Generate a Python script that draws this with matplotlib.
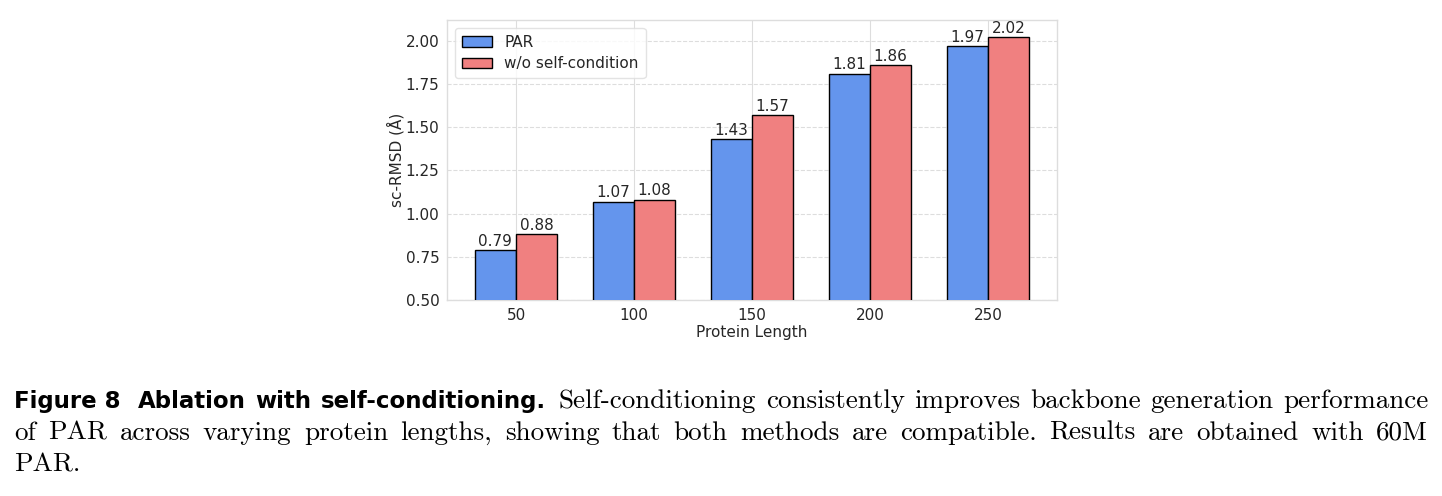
import matplotlib
matplotlib.use("Agg")
import matplotlib.pyplot as plt
import numpy as np

lengths = ["50", "100", "150", "200", "250"]
par = [0.79, 1.07, 1.43, 1.81, 1.97]
wo_self = [0.88, 1.08, 1.57, 1.86, 2.02]
series_labels = ["PAR", "w/o self-condition"]
y_ticks = [0.50, 0.75, 1.00, 1.25, 1.50, 1.75, 2.00]

caption_head = ["Figure 8", "Ablation", "with", "self-conditioning."]
caption_line1 = "Self-conditioning consistently improves backbone generation performance"
caption_line2 = "of PAR across varying protein lengths, showing that both methods are compatible. Results are obtained with 60M"
caption_line3 = "PAR."

W, H = 1442, 496
fig = plt.figure(figsize=(W / 100, H / 100), dpi=100)
ax = fig.add_axes([447 / W, 1 - 300 / H, (1057 - 447) / W, (300 - 20) / H])

txt = "#262626"
fs = 11
x = np.arange(len(lengths))
bw = 0.35
b1 = ax.bar(x - bw / 2, par, bw, color="#6495ED", edgecolor="black", linewidth=1.0,
            label=series_labels[0], zorder=3)
b2 = ax.bar(x + bw / 2, wo_self, bw, color="#F08080", edgecolor="black", linewidth=1.0,
            label=series_labels[1], zorder=3)
for bars, vals in ((b1, par), (b2, wo_self)):
    for r, v in zip(bars, vals):
        ax.text(r.get_x() + r.get_width() / 2, v + 0.008, f"{v:.2f}", ha="center", va="bottom",
                fontsize=fs, color=txt, zorder=4)

ax.set_ylim(0.5, max(wo_self) * 1.05)
ax.set_yticks(y_ticks)
ax.set_yticklabels([f"{t:.2f}" for t in y_ticks])
ax.set_xticks(x)
ax.set_xticklabels(lengths)
ax.tick_params(axis="both", length=0, labelsize=fs, colors=txt, pad=5.5)
ax.set_xlabel("Protein Length", fontsize=fs, color=txt, labelpad=1.5)
ax.set_ylabel("sc-RMSD (Å)", fontsize=fs, color=txt, labelpad=1)
ax.set_axisbelow(True)
ax.yaxis.grid(True, linestyle="--", color="#dddddd", linewidth=0.8)
ax.xaxis.grid(True, linestyle="-", color="#dddddd", linewidth=0.8)
for s in ax.spines.values():
    s.set_color("#dddddd")
    s.set_linewidth(1.0)
leg = ax.legend(loc="upper left", fontsize=fs, frameon=True, borderpad=0.45,
                handlelength=2.0, labelspacing=0.45)
leg.get_frame().set_edgecolor("#dddddd")
for t in leg.get_texts():
    t.set_color(txt)

# Caption, justified
renderer = fig.canvas.get_renderer()
serif = dict(family=["cmr10", "DejaVu Serif"], fontsize=19.5, color="black")
bold = dict(family=["DejaVu Sans"], fontsize=16.5, fontweight="bold", color="black")

def place_line(items, y, x0=14, x1=1428, justify=True, extra=None):
    extra = extra or {}
    objs = []
    for word, props in items:
        t = fig.text(0, 1 - y / H, word, va="baseline", ha="left", **props)
        objs.append(t)
    widths = [o.get_window_extent(renderer).width for o in objs]
    n = len(objs)
    tot_extra = sum(extra.values())
    if justify and n > 1:
        gap = (x1 - x0 - sum(widths) - tot_extra) / (n - 1)
    else:
        gap = 6
    cx = x0
    for i, (o, w) in enumerate(zip(objs, widths)):
        o.set_x(cx / W)
        cx += w + gap + extra.get(i, 0)

line1 = [(w, bold) for w in caption_head] + [(w, serif) for w in caption_line1.split()]
place_line(line1, 408, extra={0: 8, 3: 3})
place_line([(w, serif) for w in caption_line2.split()], 440)
place_line([(w, serif) for w in caption_line3.split()], 472, justify=False)

fig.savefig("out.png", dpi=100)
